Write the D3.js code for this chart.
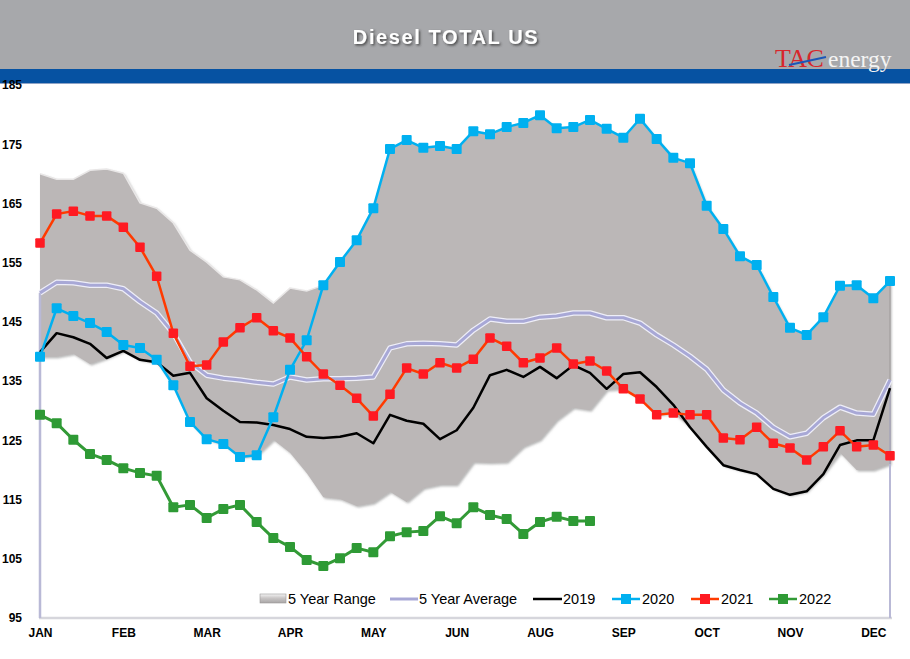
<!DOCTYPE html>
<html><head><meta charset="utf-8">
<script src="https://cdn.jsdelivr.net/npm/d3@7"></script>
<style>body{margin:0;background:#fff}svg{display:block}</style>
</head><body><svg id="c" width="910" height="659"></svg>
<script>
// ---- data ----
const monthLabels = ["JAN","FEB","MAR","APR","MAY","JUN","AUG","SEP","OCT","NOV","DEC"];
const monthWeeks = [0,5,10,15,20,25,30,35,40,45,50];
const yTicks = [95,105,115,125,135,145,155,165,175,185];

const rangeMax = [170.0,169.1,169.1,170.6,170.8,170.1,165.1,164.2,161.7,157.1,155.1,152.6,152.1,150.4,148.2,150.7,150.2,
  151.2,155.1,158.8,164.2,174.2,175.7,174.4,174.7,174.2,177.2,176.7,177.9,178.6,179.9,177.7,177.9,179.1,177.6,176.1,179.3,
  175.9,172.7,171.8,164.6,160.7,156.1,154.6,149.2,144.0,142.8,145.8,151.1,151.2,149.0,151.9];
const rangeMin = [139.1,139.1,139.6,137.9,138.9,140.1,138.6,138.2,134.3,128.1,125.2,124.4,122.2,122.5,125.1,122.9,119.5,
  115.4,115.1,113.9,114.4,116.3,114.6,116.9,117.5,117.5,121.3,121.2,121.3,123.9,125.1,128.4,130.5,130.1,133.5,133.7,132.0,
  129.3,129.6,127.2,123.9,120.8,120.0,119.3,116.8,115.8,116.4,119.3,122.9,120.0,120.0,121.0];
const avg5 = [149.9,151.7,151.6,151.2,151.2,150.6,148.4,146.5,143.1,138.2,136.0,135.5,135.2,134.8,134.5,135.7,135.2,135.4,
  135.4,135.5,135.7,140.6,141.3,141.4,141.3,141.1,143.6,145.5,145.1,145.1,145.8,146.0,146.5,146.5,145.7,145.7,144.8,142.8,
  141.1,139.2,137.0,133.5,131.3,129.6,127.2,125.6,126.2,128.8,130.6,129.6,129.4,135.2];
const y2019 = [139.9,143.1,142.4,141.3,138.9,140.1,138.6,138.2,135.9,136.4,132.1,130.0,128.1,128.0,127.6,126.9,125.6,125.4,
  125.6,126.2,124.5,129.3,128.3,127.8,125.2,126.7,130.5,136.0,136.9,135.7,137.4,135.5,137.7,136.4,133.7,136.2,136.5,134.0,
  131.0,127.2,123.9,120.8,120.0,119.3,116.8,115.8,116.4,119.3,124.2,125.0,125.0,133.8];
const y2020 = [139.1,147.3,146.0,144.8,143.3,141.1,140.6,138.6,134.3,128.1,125.2,124.4,122.2,122.5,128.9,136.9,141.9,151.2,
  155.1,158.8,164.2,174.2,175.7,174.4,174.7,174.2,177.2,176.7,177.9,178.6,179.9,177.7,177.9,179.1,177.6,176.1,179.3,175.9,
  172.7,171.8,164.6,160.7,156.1,154.6,149.2,144.0,142.8,145.8,151.1,151.2,149.0,151.9];
const y2021 = [158.3,163.2,163.7,162.9,162.9,161.0,157.6,152.7,143.1,137.5,137.7,141.6,144.0,145.7,143.5,142.3,139.1,136.2,
  134.3,132.1,129.1,132.8,137.2,136.2,138.1,137.2,138.7,142.3,140.9,138.1,138.9,140.6,137.9,138.4,136.7,133.7,132.0,129.3,
  129.6,129.3,129.3,125.4,125.1,127.2,124.5,123.7,121.7,123.9,126.6,123.9,124.2,122.4];
const y2022 = [129.3,127.9,125.1,122.7,121.7,120.3,119.5,119.0,113.7,114.1,111.9,113.4,114.1,111.2,108.5,107.0,104.8,103.8,
  105.1,106.8,106.1,108.8,109.5,109.7,112.2,111.0,113.7,112.4,111.7,109.2,111.2,112.1,111.4,111.4];

// ---- chart ----
const svg = d3.select("#c");
const defs = svg.append("defs");
const sh = defs.append("filter").attr("id","tshadow").attr("x","-10%").attr("y","-30%").attr("width","130%").attr("height","160%");
sh.append("feDropShadow").attr("dx",1.5).attr("dy",1.5).attr("stdDeviation",0.8).attr("flood-color","#333").attr("flood-opacity",0.8);
const ash = defs.append("filter").attr("id","ashadow").attr("x","-5%").attr("y","-5%").attr("width","110%").attr("height","110%");
ash.append("feDropShadow").attr("dx",1.5).attr("dy",1.5).attr("stdDeviation",1.2).attr("flood-color","#777").attr("flood-opacity",0.55);
const lg = defs.append("linearGradient").attr("id","legRange").attr("x1",0).attr("x2",0).attr("y1",0).attr("y2",1);
lg.append("stop").attr("offset","0%").attr("stop-color","#f4f4f4");
lg.append("stop").attr("offset","45%").attr("stop-color","#c9c6c6");
lg.append("stop").attr("offset","100%").attr("stop-color","#a9a6a6");

// header
svg.append("rect").attr("x",0).attr("y",0).attr("width",910).attr("height",69).attr("fill","#a7a8ab");
svg.append("rect").attr("x",0).attr("y",69).attr("width",910).attr("height",14).attr("fill","#0652a2");
svg.append("rect").attr("x",0).attr("y",83).attr("width",910).attr("height",1).attr("fill","#8ea3c6");
svg.append("text").attr("x",446).attr("y",44).attr("text-anchor","middle")
  .attr("font-family","Liberation Sans, Arial, sans-serif").attr("font-weight","bold").attr("font-size",20)
  .attr("letter-spacing",1.6).attr("fill","#fff").attr("filter","url(#tshadow)").text("Diesel TOTAL US");
// logo
const logo = svg.append("g");
logo.append("text").attr("x",775).attr("y",67).attr("font-family","Liberation Serif, Times New Roman, serif")
  .attr("font-size",26).attr("letter-spacing",-0.5).attr("fill","#d8262b").text("TAC");
logo.append("path").attr("d","M789,65 Q808,61 826,57").attr("fill","none").attr("stroke","#1b57b8").attr("stroke-width",1.8);
logo.append("text").attr("x",828).attr("y",67).attr("font-family","Liberation Serif, Times New Roman, serif")
  .attr("font-size",23.5).attr("fill","#f4f4f4").text("energy");

const x = d3.scaleLinear().domain([0,51]).range([40,890]);
const y = d3.scaleLinear().domain([95,185]).range([618,85]);
const idx = d3.range(52);

// 5 year range area
const area = d3.area().x(i=>x(i)).y0(i=>y(rangeMin[i])).y1(i=>y(rangeMax[i]));
svg.append("path").datum(idx).attr("d",area).attr("fill","#bbb7b7").attr("filter","url(#ashadow)");
svg.append("path").datum(idx).attr("d",d3.line().x(i=>x(i)).y(i=>y(rangeMax[i])))
  .attr("fill","none").attr("stroke","#e9e7e7").attr("stroke-width",1.5);

// axis frame lines
svg.append("line").attr("x1",39).attr("x2",892).attr("y1",618).attr("y2",618).attr("stroke","#d6d6dc").attr("stroke-width",2.5);
svg.append("line").attr("x1",40).attr("x2",40).attr("y1",y(avg5[0])).attr("y2",618).attr("stroke","#b9b9d6").attr("stroke-width",2.5);
svg.append("line").attr("x1",890).attr("x2",890).attr("y1",y(avg5[51])).attr("y2",618).attr("stroke","#b9b9d6").attr("stroke-width",2);
svg.append("line").attr("x1",890).attr("x2",890).attr("y1",y(rangeMax[51])).attr("y2",y(rangeMin[51])).attr("stroke","#9c9898").attr("stroke-width",1);

// 5 year average
const lineOf = arr => d3.line().x((d,i)=>x(i)).y(d=>y(d))(arr);
svg.append("path").attr("d",lineOf(avg5)).attr("fill","none").attr("stroke","#eeeef8").attr("stroke-width",5.5).attr("stroke-linejoin","round");
svg.append("path").attr("d",lineOf(avg5)).attr("fill","none").attr("stroke","#a8a8d6").attr("stroke-width",3).attr("stroke-linejoin","round");

// 2019
svg.append("path").attr("d",lineOf(y2019)).attr("fill","none").attr("stroke","#000").attr("stroke-width",2.5).attr("stroke-linejoin","round");

function series(arr, lineColor, markColor, size, lw){
  const g = svg.append("g");
  g.append("path").attr("d",lineOf(arr)).attr("fill","none").attr("stroke",lineColor).attr("stroke-width",lw).attr("stroke-linejoin","round");
  g.selectAll("rect").data(arr).join("rect")
    .attr("x",(d,i)=>x(i)-size/2).attr("y",d=>y(d)-size/2)
    .attr("width",size).attr("height",size).attr("rx",1).attr("fill",markColor);
}
series(y2020,"#00b0f0","#00b0f0",10,2.5);
series(y2021,"#ff3a00","#ff1a22",9.5,2.5);
series(y2022,"#339a36","#2e9a35",10,3);

// axes
const yAxis = svg.append("g").attr("transform","translate(40,0)")
  .call(d3.axisLeft(y).tickValues(yTicks).tickSize(0).tickPadding(18));
yAxis.select(".domain").remove();
yAxis.selectAll("text").attr("font-family","Liberation Sans, Arial, sans-serif").attr("font-weight","bold").attr("font-size",12).attr("fill","#000");
const xAxis = svg.append("g").attr("transform","translate(0,618)")
  .call(d3.axisBottom(x).tickValues(monthWeeks).tickFormat((d,i)=>monthLabels[i]).tickSize(0).tickPadding(10));
xAxis.select(".domain").remove();
xAxis.selectAll("text").attr("font-family","Liberation Sans, Arial, sans-serif").attr("font-weight","bold").attr("font-size",12).attr("fill","#000");

// legend
const leg = svg.append("g").attr("font-family","Liberation Sans, Arial, sans-serif").attr("font-size",14.5).attr("fill","#000");
const ly = 599;
leg.append("rect").attr("x",260).attr("y",ly-5).attr("width",26).attr("height",9).attr("fill","url(#legRange)").attr("stroke","#9a9797").attr("stroke-width",0.6);
leg.append("text").attr("x",288).attr("y",ly+5).text("5 Year Range");
leg.append("line").attr("x1",390).attr("x2",418).attr("y1",ly).attr("y2",ly).attr("stroke","#a8a8d6").attr("stroke-width",3);
leg.append("text").attr("x",419).attr("y",ly+5).text("5 Year Average");
leg.append("line").attr("x1",533).attr("x2",562).attr("y1",ly).attr("y2",ly).attr("stroke","#000").attr("stroke-width",2.5);
leg.append("text").attr("x",563).attr("y",ly+5).text("2019");
const legMark = [[612,"#00b0f0","#00b0f0","2020"],[691,"#ff3a00","#ff1a22","2021"],[769,"#339a36","#2e9a35","2022"]];
legMark.forEach(([lx,lc,mc,t])=>{
  leg.append("line").attr("x1",lx).attr("x2",lx+28).attr("y1",ly).attr("y2",ly).attr("stroke",lc).attr("stroke-width",2.5);
  leg.append("rect").attr("x",lx+9).attr("y",ly-5).attr("width",10).attr("height",10).attr("fill",mc);
  leg.append("text").attr("x",lx+30).attr("y",ly+5).text(t);
});
</script></body></html>
